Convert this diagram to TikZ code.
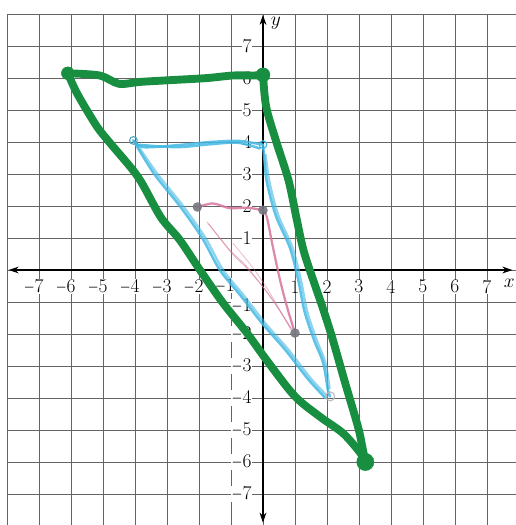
\documentclass[tikz,border=0pt]{standalone}
\usepackage{graphicx}
\usepackage{tikz}
\usetikzlibrary{arrows.meta}
\definecolor{penGreen}{RGB}{24,142,64}
\definecolor{penBlue}{RGB}{66,184,226}
\definecolor{penPink}{RGB}{214,116,156}
\definecolor{pencilGray}{RGB}{118,118,128}
\definecolor{gridGray}{RGB}{100,100,100}
\newcommand{\shortminus}{\scalebox{0.72}[1]{$-$}}

\begin{document}
\begin{tikzpicture}[
    numlbl/.style={fill=white,inner sep=0.3pt,font=\LARGE},
    greenpen/.style={penGreen,line width=7pt,line cap=round,line join=round},
    bluepen/.style={penBlue,line width=2.2pt,line cap=round,line join=round,opacity=0.85},
    pinkpen/.style={penPink,line width=2pt,line cap=round,line join=round,opacity=0.85},
  ]
\useasboundingbox (-8.22,-7.97) rectangle (7.88,8.44);

% 方格纸
\draw[gridGray, line width=0.6pt] (-8,-8) grid (8,8);

% 坐标轴
\draw[{Stealth[length=9pt,width=6pt]}-{Stealth[length=9pt,width=6pt]}, line width=1.1pt] (-7.95,0) -- (7.8,0);
\draw[{Stealth[length=9pt,width=6pt]}-{Stealth[length=9pt,width=6pt]}, line width=1.1pt] (0,-7.9) -- (0,7.98);
\node (xname) at (7.7,-0.42) {\LARGE$x$};
\node (yname) at (0.4,7.72) {\LARGE$y$};

% x 轴刻度
\node[numlbl,anchor=east] (xm7) at (-6.84,-0.52) {\shortminus7};
\node[numlbl,anchor=east] (xm6) at (-5.84,-0.52) {\shortminus6};
\node[numlbl,anchor=east] (xm5) at (-4.84,-0.52) {\shortminus5};
\node[numlbl,anchor=east] (xm4) at (-3.84,-0.52) {\shortminus4};
\node[numlbl,anchor=east] (xm3) at (-2.84,-0.52) {\shortminus3};
\node[numlbl,anchor=east] (xm2) at (-1.84,-0.52) {\shortminus2};
\node[numlbl,anchor=east] (xm1) at (-0.86,-0.49) {\shortminus1};
\node[numlbl] (xp1) at (1,-0.52) {1};
\node[numlbl] (xp2) at (2,-0.52) {2};
\node[numlbl] (xp3) at (3,-0.52) {3};
\node[numlbl] (xp4) at (4,-0.52) {4};
\node[numlbl] (xp5) at (5,-0.52) {5};
\node[numlbl] (xp6) at (6,-0.52) {6};
\node[numlbl] (xp7) at (7,-0.52) {7};

% y 轴刻度
\node[numlbl,anchor=east] (yp7) at (-0.34,7) {7};
\node[numlbl,anchor=east] (yp6) at (-0.34,6) {6};
\node[numlbl,anchor=east] (yp5) at (-0.34,5) {5};
\node[numlbl,anchor=east] (yp4) at (-0.34,4) {4};
\node[numlbl,anchor=east] (yp3) at (-0.34,3) {3};
\node[numlbl,anchor=east] (yp2) at (-0.34,2) {2};
\node[numlbl,anchor=east] (yp1) at (-0.34,1) {1};
\node[numlbl,anchor=east] (ym1) at (-0.34,-1.13) {\shortminus1};
\node[numlbl,anchor=east] (ym2) at (-0.34,-2) {\shortminus2};
\node[numlbl,anchor=east] (ym3) at (-0.34,-3) {\shortminus3};
\node[numlbl,anchor=east] (ym4) at (-0.34,-4) {\shortminus4};
\node[numlbl,anchor=east] (ym5) at (-0.34,-5) {\shortminus5};
\node[numlbl,anchor=east] (ym6) at (-0.34,-6) {\shortminus6};
\node[numlbl,anchor=east] (ym7) at (-0.34,-7) {\shortminus7};

% 顶点
\coordinate (P1) at (-2.05,1.97);
\coordinate (P2) at (0,1.87);
\coordinate (P3) at (1.0,-1.97);
\coordinate (B1) at (-4.05,4.05);
\coordinate (B2) at (0,3.92);
\coordinate (B3) at (2.1,-3.95);
\coordinate (G1) at (-6.1,6.15);
\coordinate (G2) at (0,6.1);
\coordinate (G3) at (3.2,-6.0);

% 小三角形 (粉色)
\draw[pinkpen] plot[smooth,tension=0.5] coordinates {(P1) (-1.56,2.08) (-1.03,1.93) (-0.5,1.95) (P2)};
\draw[pinkpen] plot[smooth,tension=0.5] coordinates {(P2) (0.12,1.66) (0.31,0.72) (0.53,-0.3) (0.75,-1.15) (P3)};
\draw[penPink, line width=0.7pt, opacity=0.6] plot[smooth,tension=0.5] coordinates {(-1.75,1.5) (-1.03,0.62) (-0.5,0.1) (0.2,-0.8) (0.86,-1.8)};
\draw[penPink, line width=0.7pt, opacity=0.6] plot[smooth,tension=0.5] coordinates {(-1.7,1.45) (-1.0,0.55) (-0.45,0.0) (0.25,-0.85) (0.9,-1.85)};
\draw[penPink, line width=0.7pt, opacity=0.5] plot[smooth,tension=0.5] coordinates {(-0.94,0.84) (-0.3,0.05) (0.22,-0.72) (0.88,-1.88)};

% 中三角形 (蓝色)
\draw[bluepen] plot[smooth,tension=0.5] coordinates {(B1) (-3.75,3.84) (-2.7,3.9) (-1.66,4.0) (-0.8,4.04) (-0.3,3.97) (B2)};
\draw[bluepen] plot[smooth,tension=0.5] coordinates {(-3.95,3.92) (-2.7,3.84) (-1.66,3.93) (-0.8,3.98) (-0.1,3.8)};
\draw[bluepen] plot[smooth,tension=0.5] coordinates {(B2) (0.05,3.4) (0.12,2.75) (0.4,1.7) (0.84,0.7) (1.1,-0.3) (1.3,-1.3) (1.6,-2.2) (1.88,-2.9) (2.03,-3.75) (B3)};
\draw[bluepen,opacity=0.6] plot[smooth,tension=0.5] coordinates {(0.08,3.6) (0.2,2.75) (0.48,1.7) (0.92,0.7) (1.18,-0.3) (1.38,-1.3) (1.68,-2.2) (1.95,-2.9) (2.08,-3.7)};
\draw[bluepen] plot[smooth,tension=0.5] coordinates {(B1) (-3.4,3.0) (-2.6,2.0) (-1.9,1.0) (-1.35,0) (-0.7,-0.8) (0.0,-1.7) (0.7,-2.5) (1.4,-3.4) (1.95,-4.0)};
\draw[bluepen,opacity=0.6] plot[smooth,tension=0.5] coordinates {(-3.95,3.95) (-3.3,3.0) (-2.5,2.0) (-1.8,1.0) (-1.25,0) (-0.6,-0.8) (0.1,-1.7) (0.8,-2.5) (1.5,-3.4) (2.02,-3.95)};

% 大三角形 (绿色)
\draw[greenpen] plot[smooth,tension=0.5] coordinates {(G1) (-5.1,6.08) (-4.5,5.82) (-3.84,5.88) (-2.8,5.94) (-1.75,6.0) (-0.94,6.08) (-0.3,6.08) (G2)};
\draw[greenpen] plot[smooth,tension=0.5] coordinates {(G2) (0.1,5.1) (0.4,4.06) (0.8,2.8) (1.06,1.56) (1.3,0.5) (1.84,-1.1) (2.16,-2.1) (2.56,-3.5) (2.97,-4.9) (3.1,-5.5) (G3)};
\draw[greenpen] plot[smooth,tension=0.5] coordinates {(G3) (3.03,-5.7) (2.5,-5.1) (1.8,-4.6) (1.0,-3.95) (0.16,-2.88) (-0.5,-1.97) (-1.25,-1.03) (-1.97,0) (-2.6,0.94) (-3.2,1.66) (-3.9,2.9) (-4.78,3.97) (-5.2,4.5) (-5.8,5.5) (G1)};

% 顶点标记
\filldraw[draw=pencilGray,fill=pencilGray,opacity=0.9] (P1) circle (0.14);
\filldraw[draw=pencilGray,fill=pencilGray,opacity=0.9] (P2) circle (0.14);
\filldraw[draw=pencilGray,fill=pencilGray,opacity=0.9] (P3) circle (0.14);
\draw[penBlue!70!gray, line width=1pt] (B1) circle (0.12);
\draw[penBlue, line width=1pt] (B2) circle (0.12);
\draw[pencilGray!50, line width=1pt] (B3) circle (0.14);
\filldraw[penGreen] (G1) circle (0.2);
\filldraw[penGreen] (G2) circle (0.22);
\filldraw[penGreen] (G3) circle (0.27);
\end{tikzpicture}
\end{document}
